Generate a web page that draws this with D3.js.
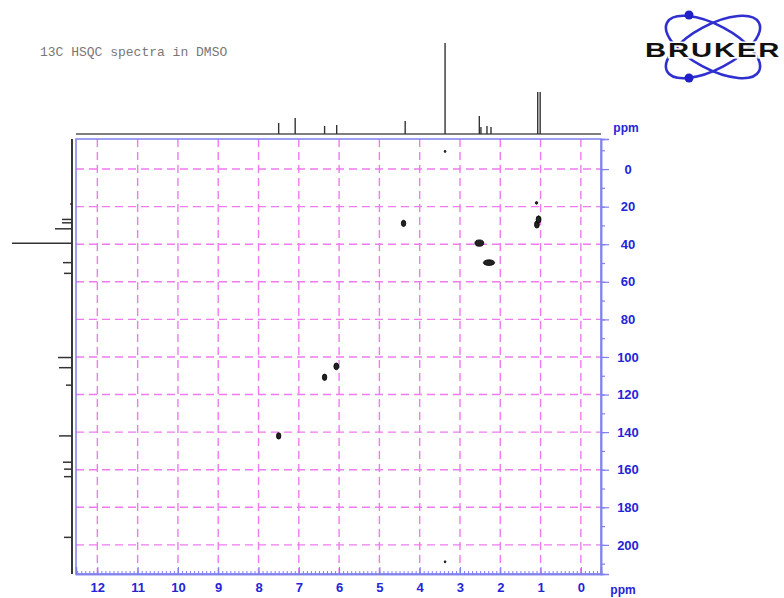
<!DOCTYPE html>
<html>
<head>
<meta charset="utf-8">
<script src="https://cdn.jsdelivr.net/npm/d3@7"></script>
<style>
  body { margin: 0; background: #fff; }
  svg { display: block; }
</style>
</head>
<body>
<div class="canvas"></div>
<script>
// 1H projection peaks (ppm, relative height)
const protonPpm    = [7.50, 7.09, 6.36, 6.06, 4.36, 3.37, 2.52, 2.48, 2.33, 2.23, 1.07, 1.01]
const protonHeight = [11, 16, 8, 9, 13, 91, 18, 7, 8, 7, 42, 42]

// 13C projection peaks (ppm, relative height)
const carbonPpm    = [18.6, 26.8, 28.6, 31.8, 39.5, 49.8, 55.5, 79, 100.3, 105.7, 115, 142, 156, 159.7, 163.7, 196]
const carbonHeight = [2, 10, 10, 17, 60, 9, 8, 1, 14, 13, 6, 13, 9, 8, 8, 8]

// HSQC cross peaks: 1H ppm, 13C ppm, half widths in ppm
const crossH  = [7.50, 6.36, 6.07, 4.40, 2.52, 2.28, 1.09, 1.05, 1.10, 3.37, 3.37]
const crossC  = [142, 110.8, 105, 28.9, 39.4, 49.8, 29.5, 26.8, 18, -9.4, 209]
const crossWH = [0.055, 0.055, 0.06, 0.055, 0.11, 0.14, 0.06, 0.06, 0.03, 0.02, 0.02]
const crossWC = [1.7, 1.7, 1.8, 1.7, 1.7, 1.5, 1.9, 1.9, 0.7, 0.6, 0.6]

const xTicks = d3.range(0, 13)
const yTicks = d3.range(0, 201, 20)

const width = 784
const height = 598

const frame = { left: 76, right: 601, top: 139, bottom: 574 }
const blue = "#2424d8"
const frameBlue = "#8080ee"
const grid = "#f07af0"

const svg = d3.select(".canvas")
    .append("svg")
    .attr("width", width)
    .attr("height", height)

const x = d3.scaleLinear().domain([12.53, -0.5]).range([frame.left, frame.right])
const y = d3.scaleLinear().domain([-16, 215.5]).range([frame.top, frame.bottom])

// title
svg.append("text")
    .attr("x", 40)
    .attr("y", 56)
    .attr("font-family", "Liberation Mono, monospace")
    .attr("font-size", 13)
    .attr("fill", "#777")
    .text("13C HSQC spectra in DMSO")

// logo
const logo = svg.append("g")
;[28, -28].forEach(a => {
    logo.append("ellipse")
        .attr("cx", 713).attr("cy", 47)
        .attr("rx", 52).attr("ry", 22)
        .attr("transform", `rotate(${a},713,47)`)
        .attr("fill", "none")
        .attr("stroke", "#3030d0")
        .attr("stroke-width", 2.6)
})
logo.selectAll("circle.ball")
    .data([15, 78])
    .enter()
    .append("circle")
    .attr("cx", 689).attr("cy", d => d).attr("r", 4.5)
    .attr("fill", "#2020c8")
logo.append("text")
    .attr("transform", "translate(645,57) scale(1.46,1)")
    .attr("font-family", "Liberation Sans, Arial, sans-serif")
    .attr("font-weight", "bold")
    .attr("font-size", 20)
    .attr("letter-spacing", 1.3)
    .attr("fill", "#111")
    .attr("stroke", "#fff")
    .attr("stroke-width", 3)
    .attr("paint-order", "stroke")
    .text("BRUKER")

// grid
const g = svg.append("g")
g.selectAll("line.vgrid")
    .data(xTicks)
    .enter()
    .append("line")
    .attr("x1", d => x(d)).attr("x2", d => x(d))
    .attr("y1", frame.top).attr("y2", frame.bottom)
    .attr("stroke", grid)
    .attr("stroke-width", 1.4)
    .attr("stroke-dasharray", "8,5")

g.selectAll("line.hgrid")
    .data(yTicks)
    .enter()
    .append("line")
    .attr("y1", d => y(d)).attr("y2", d => y(d))
    .attr("x1", frame.left).attr("x2", frame.right)
    .attr("stroke", grid)
    .attr("stroke-width", 1.4)
    .attr("stroke-dasharray", "8,5")

// cross peaks
g.selectAll("ellipse.peak")
    .data(crossH.map((h, i) => ({ h, c: crossC[i], wh: crossWH[i], wc: crossWC[i] })))
    .enter()
    .append("ellipse")
    .attr("cx", d => x(d.h))
    .attr("cy", d => y(d.c))
    .attr("rx", d => Math.abs(x(d.h + d.wh) - x(d.h)))
    .attr("ry", d => y(d.c + d.wc) - y(d.c))
    .attr("fill", "#222")
    .attr("stroke", "#000")
    .attr("stroke-width", 0.8)

// frame
svg.append("rect")
    .attr("x", frame.left).attr("y", frame.top)
    .attr("width", frame.right - frame.left)
    .attr("height", frame.bottom - frame.top)
    .attr("fill", "none")
    .attr("stroke", frameBlue)
    .attr("stroke-width", 1.5)

// bottom axis
const bottomMinor = svg.append("g")
    .attr("transform", `translate(0,${frame.bottom})`)
    .call(d3.axisBottom(x).tickValues(d3.range(-5, 126).map(d => d / 10)).tickSize(-3).tickFormat(""))
const bottomAxis = svg.append("g")
    .attr("transform", `translate(0,${frame.bottom})`)
    .call(d3.axisBottom(x).tickValues(xTicks).tickSize(-7).tickPadding(9).tickFormat(d3.format("d")))

;[bottomMinor, bottomAxis].forEach(a => {
    a.select(".domain").attr("stroke", frameBlue).attr("stroke-width", 1.5)
    a.selectAll(".tick line").attr("stroke", frameBlue)
})
bottomAxis.selectAll(".tick text")
    .attr("fill", blue)
    .attr("font-family", "Liberation Sans, Arial, sans-serif")
    .attr("font-weight", "bold")
    .attr("font-size", 13)

// right axis
const rightMinor = svg.append("g")
    .attr("transform", `translate(${frame.right},0)`)
    .call(d3.axisRight(y).tickValues(d3.range(-10, 211, 10)).tickSize(4).tickFormat(""))
const rightAxis = svg.append("g")
    .attr("transform", `translate(${frame.right},0)`)
    .call(d3.axisRight(y).tickValues(yTicks).tickSize(8).tickPadding(4))

;[rightMinor, rightAxis].forEach(a => {
    a.select(".domain").attr("stroke", frameBlue).attr("stroke-width", 1.5)
    a.selectAll(".tick line").attr("stroke", frameBlue).attr("stroke-width", 1.2)
})
rightAxis.selectAll(".tick text")
    .attr("x", 27)
    .attr("text-anchor", "middle")
    .attr("fill", blue)
    .attr("font-family", "Liberation Sans, Arial, sans-serif")
    .attr("font-weight", "bold")
    .attr("font-size", 13)

svg.selectAll("text.ppm")
    .data([[626, 132], [623, 594]])
    .enter()
    .append("text")
    .attr("x", d => d[0]).attr("y", d => d[1])
    .attr("text-anchor", "middle")
    .attr("fill", blue)
    .attr("font-family", "Liberation Sans, Arial, sans-serif")
    .attr("font-weight", "bold")
    .attr("font-size", 12)
    .text("ppm")

// top 1H projection
const topBase = 134
const hScale = d3.scaleLinear().domain([0, 91]).range([topBase, 43])
svg.append("line")
    .attr("x1", frame.left).attr("x2", frame.right)
    .attr("y1", topBase).attr("y2", topBase)
    .attr("stroke", "#555")
    .attr("stroke-width", 1.3)
svg.selectAll("line.hpeak")
    .data(protonPpm.map((p, i) => ({ p, v: protonHeight[i] })))
    .enter()
    .append("line")
    .attr("x1", d => x(d.p)).attr("x2", d => x(d.p))
    .attr("y1", topBase).attr("y2", d => hScale(d.v))
    .attr("stroke", "#333")
    .attr("stroke-width", 1.4)

// left 13C projection
const leftBase = 72
const cScale = d3.scaleLinear().domain([0, 60]).range([leftBase, 12])
svg.append("line")
    .attr("x1", leftBase).attr("x2", leftBase)
    .attr("y1", frame.top).attr("y2", frame.bottom)
    .attr("stroke", "#222")
    .attr("stroke-width", 1.8)
svg.selectAll("line.cpeak")
    .data(carbonPpm.map((p, i) => ({ p, v: carbonHeight[i] })))
    .enter()
    .append("line")
    .attr("y1", d => y(d.p)).attr("y2", d => y(d.p))
    .attr("x1", leftBase).attr("x2", d => cScale(d.v))
    .attr("stroke", "#333")
    .attr("stroke-width", 1.5)
</script>
</body>
</html>
